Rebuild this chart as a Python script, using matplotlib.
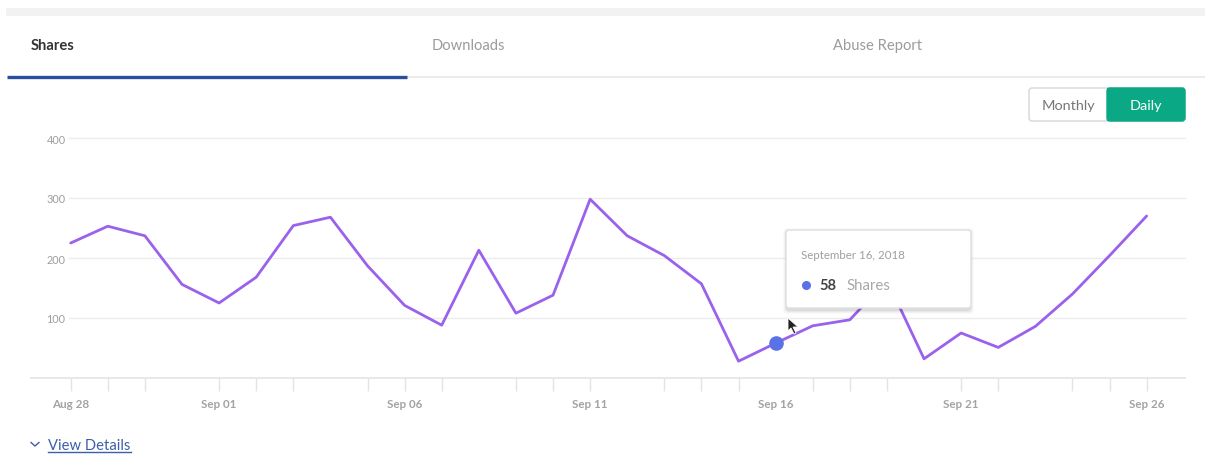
import matplotlib
matplotlib.use("Agg")
import matplotlib.pyplot as plt
import matplotlib.dates as mdates
from matplotlib.patches import FancyBboxPatch, Rectangle, Polygon
import pandas as pd

plt.rcParams['font.family'] = ['Lato', 'DejaVu Sans']

# ---- data -------------------------------------------------------------
dates = pd.date_range('2018-08-28', '2018-09-26', freq='D')
shares = [225, 253, 237, 156, 125, 168, 254, 268, 187, 121,
          88, 213, 108, 138, 298, 237, 204, 157, 28, 58,
          87, 97, 163, 32, 75, 51, 86, 140, 204, 270]
label_dates = pd.to_datetime(['2018-08-28', '2018-09-01', '2018-09-06',
                              '2018-09-11', '2018-09-16', '2018-09-21',
                              '2018-09-26'])
untick_dates = pd.to_datetime(['2018-08-31', '2018-09-04', '2018-09-08',
                               '2018-09-12', '2018-09-16', '2018-09-20',
                               '2018-09-23'])
tick_dates = [d for d in dates if d not in set(untick_dates)]
y_ticks = [100, 200, 300, 400]
tabs = ['Shares', 'Downloads', 'Abuse Report']
range_buttons = ['Monthly', 'Daily']
highlight_date = pd.Timestamp('2018-09-16')
series_name = 'Shares'

# ---- figure -----------------------------------------------------------
W, H = 1205, 456
fig = plt.figure(figsize=(W / 100, H / 100), dpi=100)
fig.patch.set_facecolor('white')


def px_rect(x0, y0, x1, y1):
    return [x0 / W, 1 - y1 / H, (x1 - x0) / W, (y1 - y0) / H]


ui = fig.add_axes([0, 0, 1, 1], zorder=0)
ui.set_xlim(0, W)
ui.set_ylim(H, 0)
ui.axis('off')

# top grey strip
ui.add_patch(Rectangle((6, 9), W - 6, 8, color='#f2f2f2', lw=0))

# tabs
tab_x = [31, 432, 833]
for i, (name, x) in enumerate(zip(tabs, tab_x)):
    ui.text(x, 46, name, fontsize=10.6, va='center', ha='left',
            color='#333333' if i == 0 else '#9b9b9b',
            fontweight='bold' if i == 0 else 'normal')
ui.plot([407, W], [77.5, 77.5], color='#ebebeb', lw=1.5, solid_capstyle='butt')
ui.plot([7, 407], [77.5, 77.5], color='#2a4f9f', lw=2.4, solid_capstyle='butt')

# Monthly / Daily toggle
ui.add_patch(FancyBboxPatch((1029, 89), 156, 33,
                            boxstyle='round,pad=0,rounding_size=3',
                            fc='white', ec='#d6d6d6', lw=1))
ui.add_patch(FancyBboxPatch((1107, 89), 78, 33,
                            boxstyle='round,pad=0,rounding_size=3',
                            fc='#0aa884', ec='#0aa884', lw=1))
ui.add_patch(Rectangle((1107, 89), 8, 33, fc='#0aa884', ec='none'))
ui.text(1068, 106, range_buttons[0], fontsize=10.4, ha='center', va='center',
        color='#777777')
ui.text(1146, 106, range_buttons[1], fontsize=10.4, ha='center', va='center',
        color='white')

# "View Details" link
ui.plot([31, 35, 39], [443.5, 447, 443.5], color='#3d5fa8', lw=1)
ui.text(48, 446, 'View Details', fontsize=10.6, ha='left', va='center',
        color='#3d5fa8')
ui.plot([48, 131], [453.5, 453.5], color='#3d5fa8', lw=1)

# ---- chart ------------------------------------------------------------
ax = fig.add_axes(px_rect(69, 139, 1185, 379), zorder=1)
ax.patch.set_alpha(0)
for s in ax.spines.values():
    s.set_visible(False)

for y in y_ticks:
    ax.axhline(y, color='#ececec', lw=1, zorder=0, clip_on=False)
ax.plot([-0.034, 1], [0, 0], transform=ax.get_yaxis_transform(),
        color='#e4e4e4', lw=1.2, clip_on=False, zorder=0)

ax.plot(dates, shares, color='#9a62ec', lw=2.0, solid_joinstyle='round',
        solid_capstyle='round', zorder=3, clip_on=False)
hi = list(dates).index(highlight_date)
ax.plot([dates[hi]], [shares[hi]], 'o', ms=9.5, color='#5b72e6',
        mec='#5b72e6', zorder=4, clip_on=False)

ax.set_ylim(0, 400)
ax.set_xlim(dates[0] - pd.Timedelta(hours=1.1),
            dates[-1] + pd.Timedelta(hours=24.8))

ax.set_yticks(y_ticks)
ax.tick_params(axis='y', length=0, pad=2.5, labelsize=7.8,
               labelcolor='#9d9d9d')

ax.xaxis.remove_overlapping_locs = False
ax.set_xticks(label_dates)
ax.xaxis.set_major_formatter(mdates.DateFormatter('%b %d'))
ax.set_xticks(tick_dates, minor=True)
ax.tick_params(axis='x', which='major', length=0, pad=14.5, labelsize=8.4,
               labelcolor='#a3a3a3')
for lbl in ax.get_xticklabels():
    lbl.set_fontweight('bold')
ax.tick_params(axis='x', which='minor', length=9.5, width=1,
               color='#e4e4e4')

# ---- tooltip ----------------------------------------------------------
tip = fig.add_axes([0, 0, 1, 1], zorder=2)
tip.set_xlim(0, W)
tip.set_ylim(H, 0)
tip.axis('off')
tip.patch.set_alpha(0)

bx, by, bw, bh = 786, 231, 185, 78
for k, a in enumerate([0.05, 0.04, 0.03, 0.02]):
    g = k + 1
    tip.add_patch(FancyBboxPatch((bx - g + 1, by - g + 2), bw + 2 * g - 2, bh + 2 * g,
                                 boxstyle='round,pad=0,rounding_size=4',
                                 fc='black', ec='none', alpha=a))
tip.add_patch(FancyBboxPatch((bx, by), bw, bh,
                             boxstyle='round,pad=0,rounding_size=3',
                             fc='white', ec='#dedede', lw=1))
tip.text(801, 256, highlight_date.strftime('%B %-d, %Y'), fontsize=8.3,
         ha='left', va='center', color='#9f9f9f')
tip.plot([806], [286], 'o', ms=5.5, color='#5b72e6')
tip.text(819, 286, f'{shares[hi]}', fontsize=10.5, fontweight='bold',
         ha='left', va='center', color='#444444')
tip.text(846, 286, series_name, fontsize=10.8, ha='left', va='center',
         color='#a8a8a8')

# mouse pointer
tip.add_patch(Polygon([(788, 319), (788, 332), (791, 329), (794, 335),
                       (796, 334), (793, 328), (798, 328)], closed=True,
                      fc='#222222', ec='white', lw=0.6, zorder=6))

fig.savefig('out.png', dpi=100, facecolor='white')
